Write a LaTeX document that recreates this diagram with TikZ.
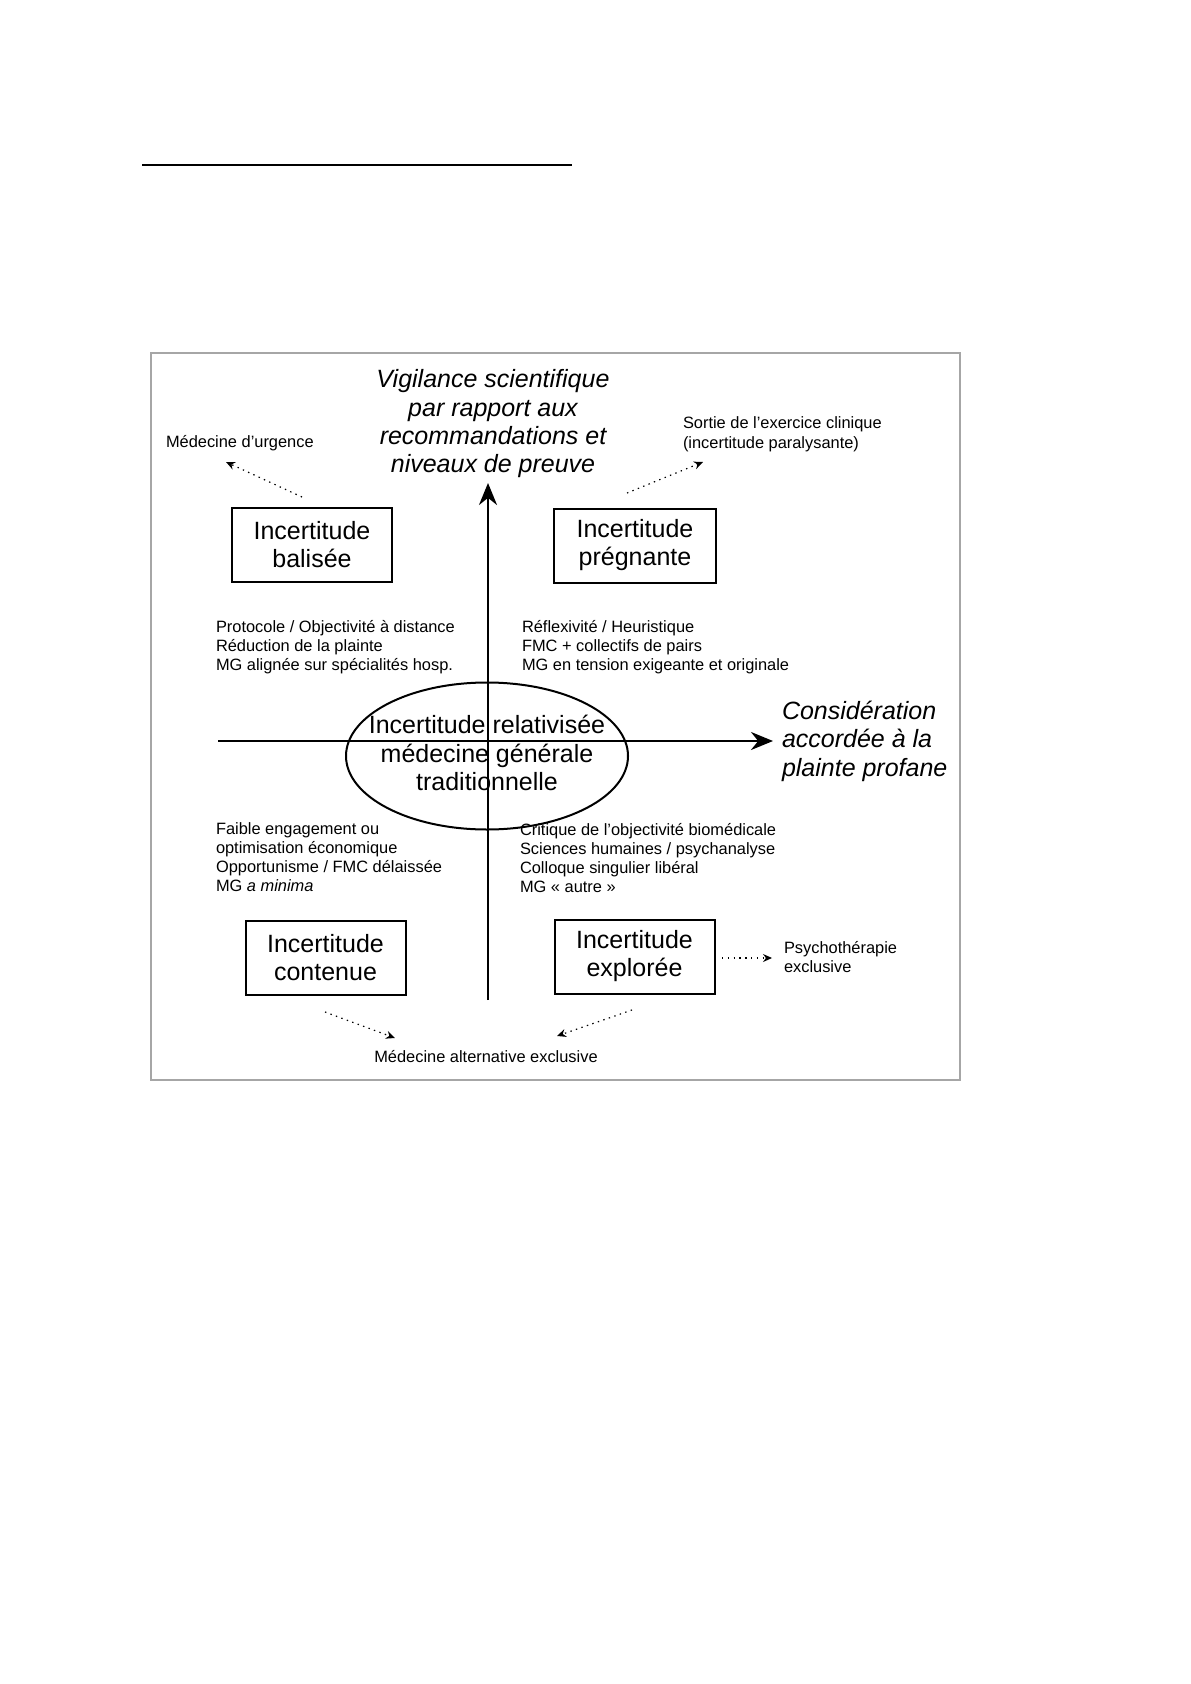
\documentclass[tikz,border=0pt]{standalone}
\usepackage{fontspec}
\setmainfont{Liberation Sans}
\usetikzlibrary{arrows.meta,positioning,shapes.geometric,calc}

\begin{document}
\begin{tikzpicture}[x=0.5pt, y=-0.5pt,
                    every node/.style={inner sep=0pt, outer sep=0pt},
                    uncertBox/.style={draw, line width=1pt, minimum width=80pt, minimum height=37pt, align=center, font=\fontsize{12.5}{14}\selectfont},
                    coreEllipse/.style={draw, ellipse, line width=1pt, minimum width=141pt, minimum height=73.5pt},
                    coreText/.style={align=center, font=\fontsize{12.5}{14.2}\selectfont},
                    axisLabel/.style={align=center, font=\fontsize{12.5}{14.2}\selectfont\itshape},
                    smallText/.style={align=left, font=\fontsize{8.2}{9.5}\selectfont},
                    axisArrow/.style={line width=1.2pt, -{Stealth[length=11pt, width=9pt]}},
                    dottedArrow/.style={line width=0.6pt, dash pattern=on 0.7pt off 2.2pt, -{Stealth[length=4.5pt, width=4pt]}}
                   ]
  \useasboundingbox (0,0) rectangle (1190,1684);

  % rule above the figure and frame
  \draw[line width=1pt] (142,165) -- (572,165);
  \draw[gray!70, line width=0.8pt] (151,353) rectangle (960,1080);

  % central ellipse
  \node[coreEllipse] (core) at (487,756) {};
  \node[coreText] (coreLabel) at ([yshift=1.5pt]core.center) {Incertitude relativisée\\médecine générale\\traditionnelle};

  % axes
  \coordinate (vBottom) at (488,1000);
  \coordinate (vTop) at (488,483);
  \coordinate (hLeft) at (218,741);
  \coordinate (hRight) at (773,741);
  \draw[axisArrow] (vBottom) -- (vTop);
  \draw[axisArrow] (hLeft) -- (hRight);

  % axis labels (base = last line)
  \node[axisLabel, anchor=base] (vigilance) at (493,473) {Vigilance scientifique\\par rapport aux\\recommandations et\\niveaux de preuve};
  \node[axisLabel, align=left, anchor=base west] (plainte) at (782,776) {Considération\\accordée à la\\plainte profane};

  % the four kinds of uncertainty
  \node[uncertBox] (balisee) at (312,545) {Incertitude\\balisée};
  \node[uncertBox, minimum width=81pt] (pregnante) at (635,545.5) {Incertitude\\prégnante};
  \node[uncertBox] (contenue) at (325.5,957.5) {Incertitude\\contenue};
  \node[uncertBox] (exploree) at (634.5,956.5) {Incertitude\\explorée};

  % quadrant texts
  \node[smallText, anchor=base west] (protocole) at (216,670) {Protocole / Objectivité à distance\\Réduction de la plainte\\MG alignée sur spécialités hosp.};
  \node[smallText, anchor=base west] (reflexivite) at (522,670) {Réflexivité / Heuristique\\FMC + collectifs de pairs\\MG en tension exigeante et originale};
  \node[smallText, anchor=base west] (faible) at (216,891) {Faible engagement ou\\optimisation économique\\Opportunisme / FMC délaissée\\MG \textit{a minima}};
  \node[smallText, anchor=base west] (critique) at (520,892) {Critique de l'objectivité biomédicale\\Sciences humaines / psychanalyse\\Colloque singulier libéral\\MG «~autre~»};

  % drifts out of general practice
  \node[smallText, anchor=base west] (urgence) at (166,447) {Médecine d'urgence};
  \node[smallText, anchor=base west] (sortie) at (683,448) {Sortie de l'exercice clinique\\(incertitude paralysante)};
  \node[smallText, anchor=base west] (psycho) at (784,972) {Psychothérapie\\exclusive};
  \node[smallText, anchor=base] (alternative) at (486,1062) {Médecine alternative exclusive};

  \coordinate (balTail) at (302,497);
  \coordinate (balHead) at (226,462);
  \coordinate (pregTail) at (627,493);
  \coordinate (pregHead) at (703,462);
  \coordinate (explTail) at (722,958);
  \coordinate (explHead) at (772,958);
  \coordinate (contTail) at (325,1012);
  \coordinate (contHead) at (395,1038);
  \coordinate (explDownTail) at (632,1010);
  \coordinate (explDownHead) at (557,1036);
  \draw[dottedArrow] (balTail) -- (balHead);
  \draw[dottedArrow] (pregTail) -- (pregHead);
  \draw[dottedArrow] (explTail) -- (explHead);
  \draw[dottedArrow] (contTail) -- (contHead);
  \draw[dottedArrow] (explDownTail) -- (explDownHead);
\end{tikzpicture}
\end{document}
